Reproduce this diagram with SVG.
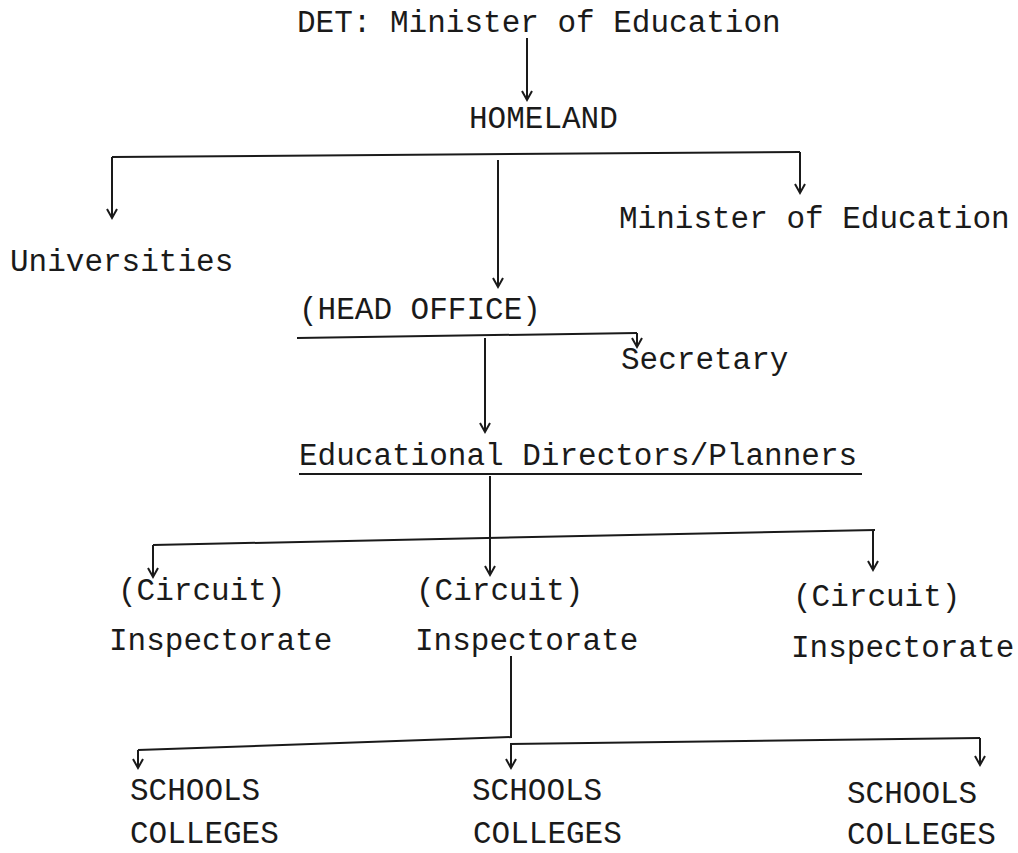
<svg xmlns="http://www.w3.org/2000/svg" width="1018" height="853" viewBox="0 0 1018 853">
<style>
text{font-family:"Liberation Mono","Courier New",monospace;font-size:31px;fill:#1a1a1a}
.c line,.c polyline{stroke:#1a1a1a;stroke-width:2;fill:none}
</style>
<defs>
<marker id="ah" markerUnits="userSpaceOnUse" markerWidth="20" markerHeight="20" refX="0" refY="0" orient="auto" viewBox="-10 -10 20 20" overflow="visible">
<path d="M-9,-5 L0,0 L-9,5" fill="none" stroke="#1a1a1a" stroke-width="2"/>
</marker>
</defs>
<rect width="1018" height="853" fill="#ffffff"/>
<g class="c" id="connectors">
<line x1="527" y1="38" x2="527" y2="100" marker-end="url(#ah)"/>
<line x1="112" y1="157" x2="800" y2="152"/>
<line x1="112" y1="157" x2="112" y2="218" marker-end="url(#ah)"/>
<line x1="498" y1="160" x2="498" y2="287" marker-end="url(#ah)"/>
<line x1="800" y1="152" x2="800" y2="193" marker-end="url(#ah)"/>
<line x1="297" y1="338" x2="637" y2="333"/>
<line x1="637" y1="333" x2="637" y2="347" marker-end="url(#ah)"/>
<line x1="485" y1="338" x2="485" y2="432" marker-end="url(#ah)"/>
<line x1="490" y1="476" x2="490" y2="537"/>
<line x1="153" y1="545" x2="875" y2="530"/>
<line x1="153" y1="545" x2="153" y2="577" marker-end="url(#ah)"/>
<line x1="490" y1="537" x2="490" y2="575" marker-end="url(#ah)"/>
<line x1="873" y1="530" x2="873" y2="570" marker-end="url(#ah)"/>
<line x1="511" y1="656" x2="511" y2="737"/>
<line x1="138" y1="750" x2="512" y2="737"/>
<line x1="510" y1="744" x2="980" y2="738"/>
<line x1="138" y1="750" x2="138" y2="768" marker-end="url(#ah)"/>
<line x1="511" y1="744" x2="511" y2="768" marker-end="url(#ah)"/>
<line x1="980" y1="738" x2="980" y2="765" marker-end="url(#ah)"/>
</g>
<g id="det"><text x="297" y="32">DET: Minister of Education</text></g>
<g id="homeland"><text x="469" y="128">HOMELAND</text></g>
<g id="universities"><text x="10" y="271">Universities</text></g>
<g id="minister"><text x="619" y="228">Minister of Education</text></g>
<g id="headoffice"><text x="299" y="319">(HEAD OFFICE)</text></g>
<g id="secretary"><text x="621" y="369">Secretary</text></g>
<g id="directors"><text x="299" y="465">Educational Directors/Planners</text>
<line x1="299" y1="474" x2="862" y2="474" stroke="#1a1a1a" stroke-width="2"/></g>
<g id="insp1"><text x="118" y="600">(Circuit)</text><text x="109" y="650">Inspectorate</text></g>
<g id="insp2"><text x="416" y="600">(Circuit)</text><text x="415" y="650">Inspectorate</text></g>
<g id="insp3"><text x="793" y="606">(Circuit)</text><text x="791" y="657">Inspectorate</text></g>
<g id="sc1"><text x="130" y="800">SCHOOLS</text><text x="130" y="843">COLLEGES</text></g>
<g id="sc2"><text x="472" y="800">SCHOOLS</text><text x="473" y="843">COLLEGES</text></g>
<g id="sc3"><text x="847" y="803">SCHOOLS</text><text x="847" y="844">COLLEGES</text></g>
</svg>
